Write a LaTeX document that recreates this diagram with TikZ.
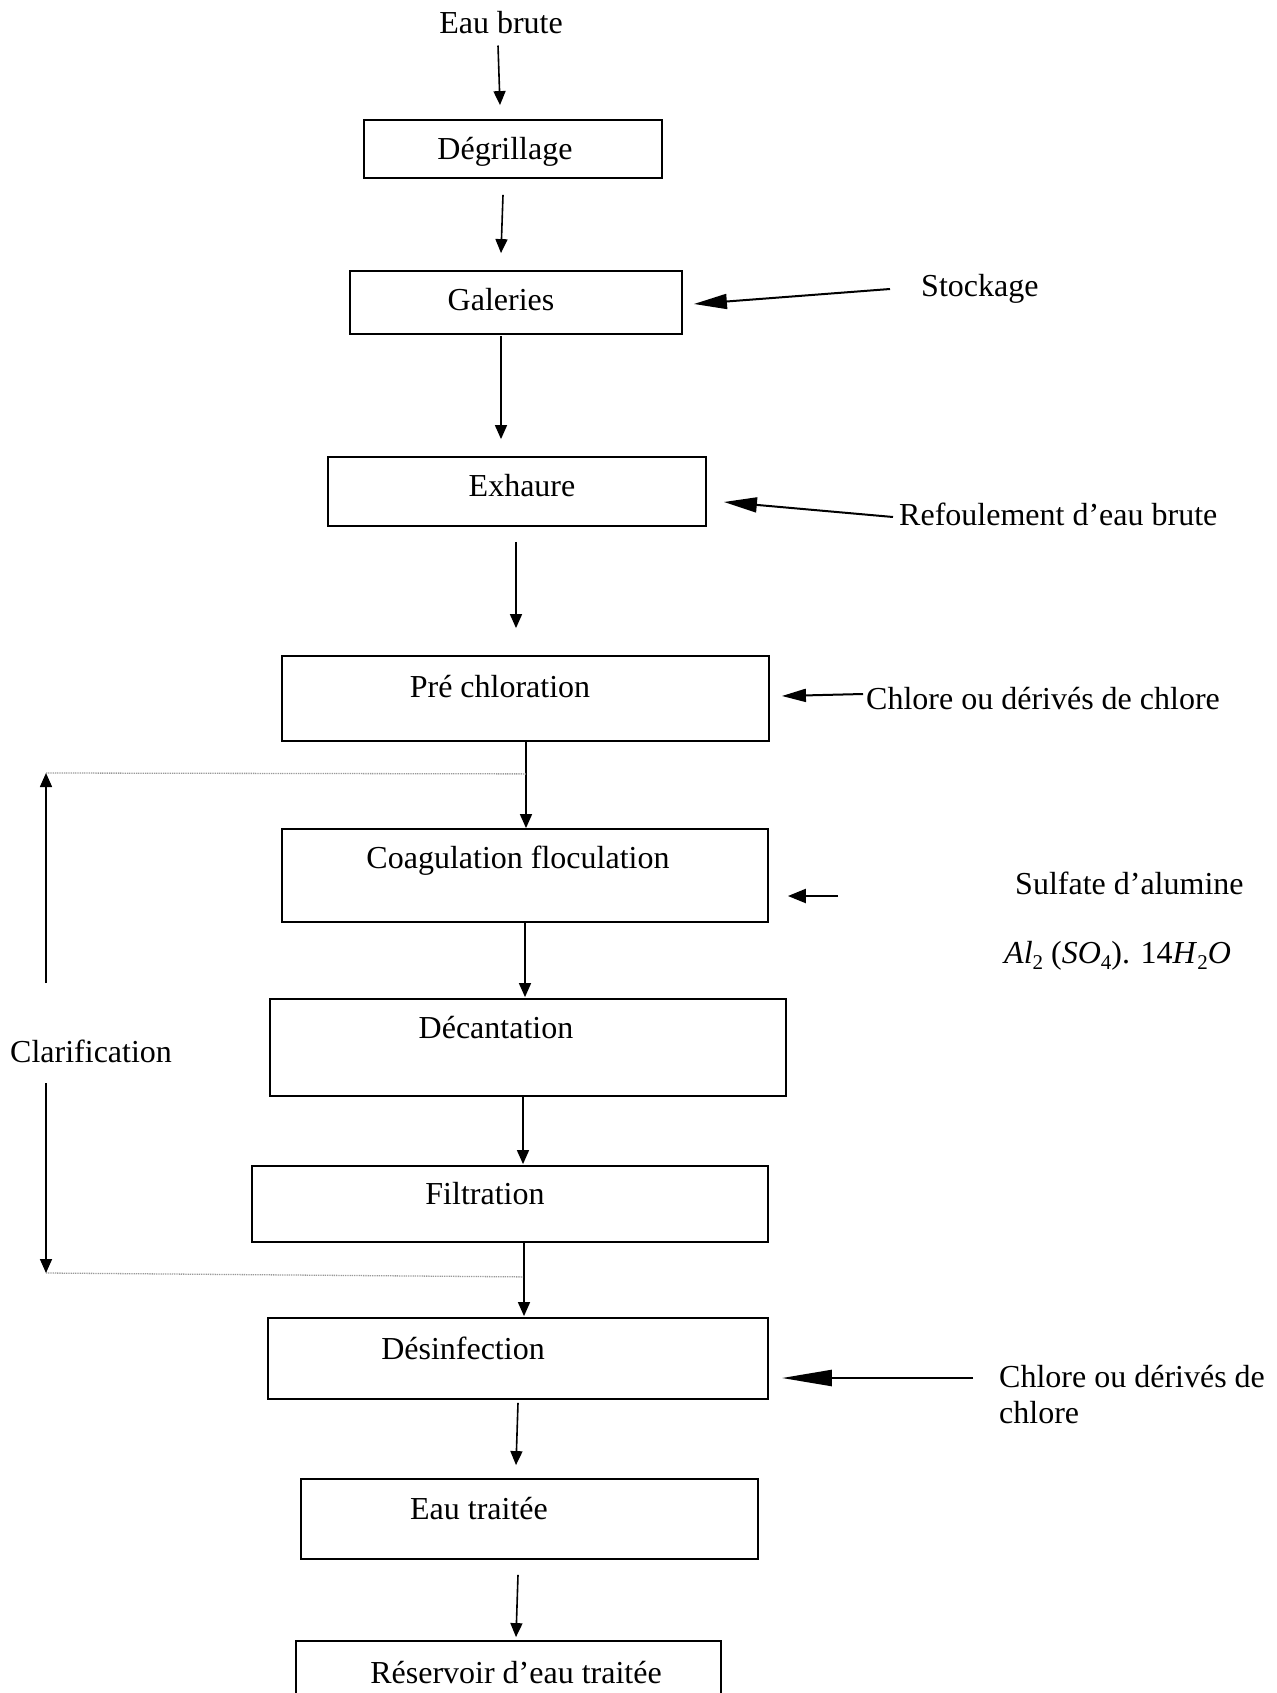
\documentclass[tikz,border=0pt]{standalone}
\usepackage{fontspec}
\setmainfont{Liberation Serif}
\usetikzlibrary{arrows.meta,calc}
\newcommand{\mysub}[1]{\raisebox{-6pt}{\fontsize{21}{21}\selectfont #1}}
\begin{document}
\begin{tikzpicture}[x=1pt,y=-1pt,
  every node/.style={font=\fontsize{32}{38}\selectfont},
  box/.style={draw,line width=1.8pt,inner sep=0pt,rectangle},
  txt/.style={inner sep=0pt,anchor=base},
  txtl/.style={inner sep=0pt,anchor=base west},
  varr/.style={line width=1.6pt,-{Triangle[length=14pt,width=12pt]}},
  sarr/.style={line width=2pt,-{Triangle[length=33pt,width=15pt]}},
  dotline/.style={gray!80,line width=1.3pt,dash pattern=on 1pt off 0.8pt}]
\useasboundingbox (0,0) rectangle (1276,1693);
% boxes
\node[box,minimum width=298pt,minimum height=58pt] (degr) at (513,149) {};
\node[box,minimum width=332pt,minimum height=63pt] (gal) at (516,302.5) {};
\node[box,minimum width=378pt,minimum height=69pt] (exh) at (517,491.5) {};
\node[box,minimum width=487pt,minimum height=85pt] (pre) at (525.5,698.5) {};
\node[box,minimum width=486pt,minimum height=93pt] (coag) at (525,875.5) {};
\node[box,minimum width=516pt,minimum height=97pt] (dec) at (528,1047.5) {};
\node[box,minimum width=516pt,minimum height=76pt] (filt) at (510,1204) {};
\node[box,minimum width=500pt,minimum height=81pt] (des) at (518,1358.5) {};
\node[box,minimum width=457pt,minimum height=80pt] (eaut) at (529.5,1519) {};
\node[box,minimum width=425pt,minimum height=80pt] (res) at (508.5,1681) {};
% texts
\node[txt] (tbrute) at (501,34) {Eau brute};
\node[txt] (tdegr) at (505,160) {Dégrillage};
\node[txt] (tgal) at (501,310) {Galeries};
\node[txtl] (tstock) at (921,297) {Stockage};
\node[txt] (texh) at (522,496) {Exhaure};
\node[txtl] (trefoul) at (899,525) {Refoulement d’eau brute};
\node[txt] (tpre) at (500,697) {Pré chloration};
\node[txtl] (tchl1) at (866,709) {Chlore ou dérivés de chlore};
\node[txt] (tcoag) at (518,868) {Coagulation floculation};
\node[txtl] (tsulf) at (1015,894) {Sulfate d’alumine};
\node[txtl] (tform) at (1004,963) {\textit{Al}\mysub{2} (\textit{SO}\mysub{4}). 14\textit{H}\mysub{2}\textit{O}};
\node[txt] (tdec) at (496,1038) {Décantation};
\node[txtl] (tclar) at (10,1062) {Clarification};
\node[txt] (tfilt) at (485,1204) {Filtration};
\node[txt] (tdes) at (463,1359) {Désinfection};
\node[txtl] (tchl2a) at (999,1387) {Chlore ou dérivés de};
\node[txtl] (tchl2b) at (999,1423) {chlore};
\node[txt] (teaut) at (479,1519) {Eau traitée};
\node[txt] (tres) at (516,1683) {Réservoir d’eau traitée};
% free-end coordinates
\coordinate (stockTail) at (890,289);
\coordinate (refTail) at (893,517);
\coordinate (chl1Tail) at (863,694);
\coordinate (sulfTail) at (838,896);
\coordinate (chl2Tail) at (973,1378);
\coordinate (clUp) at (46,983);
\coordinate (clTop) at (46,773);
\coordinate (clDn) at (46,1083);
\coordinate (clBot) at (46,1273);
% main flow arrows
\draw[varr] ($(tbrute.south)+(-3,11)$) -- ($(degr.north)+(-13,-14)$);
\draw[varr] ($(degr.south)+(-10,16)$) -- ($(gal.north)+(-15,-17)$);
\draw[varr] ($(gal.south)+(-15,1)$) -- ($(exh.north)+(-16,-17)$);
\draw[varr] ($(exh.south)+(-1,15)$) -- ($(pre.north)+(-9.5,-27)$);
\draw[varr] ($(pre.south)+(0.5,0)$) -- ($(coag.north)+(1,0)$);
\draw[varr] ($(coag.south)+(0,0)$) -- ($(dec.north)+(-3,-1)$);
\draw[varr] ($(dec.south)+(-5,0)$) -- ($(filt.north)+(13,-1)$);
\draw[varr] ($(filt.south)+(14,0)$) -- ($(des.north)+(6,-1)$);
\draw[varr] ($(des.south)+(0,3)$) -- ($(eaut.north)+(-13.5,-13)$);
\draw[varr] ($(eaut.south)+(-11.5,15)$) -- ($(res.north)+(7.5,-3)$);
% side inputs
\draw[sarr] (stockTail) -- ($(gal.east)+(11,1.5)$);
\draw[sarr] (refTail) -- ($(exh.east)+(17,10.5)$);
\draw[line width=2pt,-{Triangle[length=24pt,width=13pt]}] (chl1Tail) -- ($(pre.east)+(12,-2.5)$);
\draw[line width=2.2pt,-{Triangle[length=18pt,width=14pt]}] (sulfTail) -- ($(coag.east)+(19,20.5)$);
\draw[line width=2.4pt,-{Triangle[length=50pt,width=16pt]}] (chl2Tail) -- ($(des.east)+(13,19.5)$);
% clarification bracket
\draw[dotline] (clTop) -- ($(pre.south)+(0.5,32)$);
\draw[dotline] (clBot) -- ($(filt.south)+(13,34)$);
\draw[varr] (clUp) -- (clTop);
\draw[varr] (clDn) -- (clBot);
\end{tikzpicture}
\end{document}
